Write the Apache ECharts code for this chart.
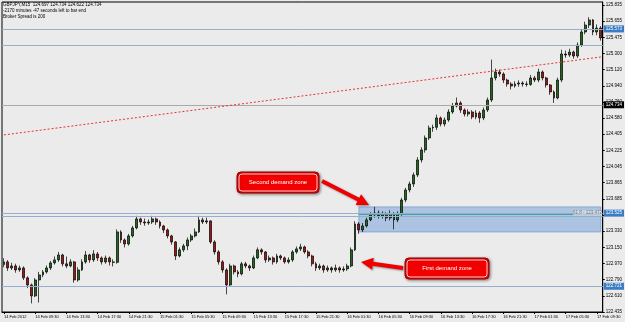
<!DOCTYPE html>
<html><head><meta charset="utf-8">
<script src="https://cdn.jsdelivr.net/npm/echarts/dist/echarts.min.js"></script>
<style>html,body{margin:0;padding:0;background:#ebebeb;}#c{width:625px;height:322px;}</style>
</head><body><div id="c"></div>
<script>
// ---- data (GBPJPY M15-style bars) ----
const startOpen = 122.960;
const closes = [
122.990,122.923,122.945,122.901,122.923,122.813,122.735,122.613,122.790,122.846,
122.879,122.923,122.979,123.012,123.067,122.968,122.945,122.990,122.790,122.901,
122.990,123.067,123.012,123.078,123.034,122.990,123.034,122.990,122.985,123.322,
123.233,123.189,123.278,123.366,123.466,123.432,123.421,123.432,123.466,123.432,
123.388,123.344,123.278,123.211,123.056,123.123,123.167,123.233,123.278,123.322,
123.455,123.432,123.444,123.211,123.100,122.990,122.901,122.735,122.945,122.879,
122.857,122.968,122.945,122.923,123.034,123.123,123.100,123.012,123.034,122.990,
123.056,123.034,122.990,123.012,123.100,123.134,123.156,123.100,123.056,122.968,
122.923,122.945,122.901,122.923,122.901,122.923,122.901,122.912,122.945,123.123,
123.410,123.344,123.388,123.455,123.510,123.532,123.499,123.521,123.477,123.521,
123.455,123.521,123.676,123.787,123.853,123.953,124.119,124.230,124.362,124.473,
124.480,124.584,124.517,124.562,124.650,124.716,124.750,124.672,124.628,124.650,
124.595,124.639,124.584,124.672,124.783,125.027,125.093,125.071,125.004,124.960,
124.938,124.960,124.971,124.960,124.955,125.027,125.004,125.093,125.027,124.949,
124.872,124.805,125.004,125.292,125.281,125.314,125.270,125.392,125.536,125.613,
125.669,125.536,125.580,125.469];
const highs = [
123.03,123.01,122.98,122.97,122.95,122.94,122.83,122.75,122.81,122.88,
122.90,122.95,123.00,123.05,123.10,123.08,123.05,123.02,123.00,122.93,
123.02,123.11,123.08,123.12,123.10,123.05,123.06,123.05,123.02,123.35,
123.34,123.25,123.30,123.39,123.50,123.48,123.47,123.46,123.50,123.48,
123.45,123.40,123.36,123.29,123.22,123.15,123.19,123.26,123.30,123.36,
123.50,123.48,123.48,123.45,123.23,123.12,123.01,122.92,122.97,122.96,
122.90,122.99,122.99,122.96,123.06,123.15,123.14,123.11,123.06,123.05,
123.08,123.07,123.05,123.04,123.12,123.16,123.19,123.17,123.12,123.07,
122.99,122.97,122.96,122.95,122.94,122.96,122.94,122.94,122.97,123.15,
123.44,123.43,123.42,123.48,123.54,123.60,123.56,123.55,123.54,123.56,
123.54,123.55,123.70,123.81,123.88,123.98,124.15,124.26,124.39,124.50,
124.51,124.62,124.60,124.59,124.68,124.75,124.81,124.77,124.69,124.68,
124.67,124.67,124.66,124.70,124.81,125.23,125.13,125.12,125.09,125.02,
124.98,124.99,125.00,124.99,124.99,125.06,125.05,125.13,125.11,125.04,
124.96,124.89,125.03,125.34,125.33,125.35,125.33,125.42,125.57,125.65,
125.70,125.68,125.62,125.60];
const lows = [
122.93,122.89,122.90,122.87,122.88,122.79,122.70,122.53,122.60,122.54,
122.82,122.86,122.90,122.96,122.99,122.94,122.92,122.93,122.76,122.77,
122.89,122.97,122.98,122.99,123.00,122.96,122.97,122.95,122.94,122.97,
123.20,123.15,123.17,123.26,123.35,123.40,123.39,123.40,123.41,123.40,
123.36,123.31,123.25,123.18,123.01,123.04,123.10,123.12,123.21,123.26,
123.31,123.41,123.41,123.19,123.07,122.96,122.87,122.63,122.72,122.85,
122.82,122.84,122.92,122.89,122.91,123.02,123.07,122.98,122.99,122.96,
122.97,123.01,122.97,122.97,122.99,123.08,123.11,123.08,123.03,122.94,
122.89,122.90,122.87,122.88,122.87,122.88,122.87,122.88,122.89,122.93,
123.11,123.30,123.32,123.37,123.44,123.48,123.47,123.47,123.44,123.45,
123.35,123.43,123.50,123.65,123.76,123.82,123.93,124.09,124.20,124.34,
124.43,124.45,124.49,124.49,124.54,124.63,124.70,124.64,124.60,124.60,
124.57,124.57,124.53,124.56,124.65,124.76,125.00,125.04,124.97,124.93,
124.90,124.92,124.93,124.93,124.93,124.94,124.98,124.98,125.00,124.92,
124.84,124.75,124.79,124.98,125.25,125.26,125.24,125.25,125.37,125.51,
125.58,125.50,125.50,125.44];
const yTickLabels = ['122.435','122.610','122.790','122.970','123.150','123.330','123.505','123.685',
  '123.865','124.045','124.225','124.405','124.580','124.760','124.940','125.120','125.300','125.475','125.655','125.835'];
const yMin = 122.435, yMax = 125.868;
// horizontal levels [price, label or null, kind]
const levels = [
  [125.573, '125.573', 'blue'],
  [125.392, null, 'blue'],
  [124.734, '124.734', 'bid'],
  [123.525, '123.525', 'blue'],
  [123.505, null, 'blue'],
  [122.721, '122.721', 'blue']
];
const trendLine = [[0, 124.396], [153, 125.259]];
const zoneBox = [[91, 123.598], [153, 123.322]];
const fiboLevel = [91, 153, 123.516];
const fiboText = '61.8 - 123.472';
const headerLines = ['GBPJPY,M15  124.697 124.734 124.622 124.734', '-2170 minutes -47 seconds left to bar end', 'Broker Spread is 200'];

// ---- build ----
const N = closes.length;
const pad = n => (n < 10 ? '0' : '') + n;
const t0 = Date.UTC(2012, 1, 14, 5, 30);
const cats = [];
for (let i = 0; i < N; i++) {
  const d = new Date(t0 + i * 1800000);
  cats.push(d.getUTCDate() + ' Feb ' + pad(d.getUTCHours()) + ':' + pad(d.getUTCMinutes()));
}
cats[0] = '14 Feb 2012';
const ohlc = closes.map((c, i) => [i === 0 ? startOpen : closes[i - 1], c, lows[i], highs[i]]);
const showIdx = i => i === 0 || (i >= 8 && (i - 8) % 8 === 0);

const mlData = levels.map(([v, lab, kind]) => ({
  yAxis: v,
  lineStyle: { color: kind === 'bid' ? '#a9a9a9' : '#97afcf', width: 1, type: 'solid' },
  label: lab ? { show: true, position: 'end', distance: 1, formatter: lab, color: '#fff', fontSize: 4.5,
    fontFamily: 'Liberation Sans', backgroundColor: kind === 'bid' ? '#000' : '#3b7dc4', padding: [1, 2, 1, 2] } : { show: false }
}));
mlData.push([{ coord: trendLine[0], lineStyle: { color: '#e8312f', width: 1, type: [2, 2] } }, { coord: trendLine[1] }]);
mlData.push([{ coord: [fiboLevel[0], fiboLevel[2]], lineStyle: { color: '#3fa3a0', width: 1, type: 'solid' } }, { coord: [fiboLevel[1], fiboLevel[2]] }]);

function arrow(x1, y1, x2, y2, w, hw, hl) {
  const L = Math.hypot(x2 - x1, y2 - y1), dx = (x2 - x1) / L, dy = (y2 - y1) / L, nx = -dy, ny = dx;
  const bx = x2 - dx * hl, by = y2 - dy * hl;
  return [[x1 + nx * w / 2, y1 + ny * w / 2], [bx + nx * w / 2, by + ny * w / 2], [bx + nx * hw / 2, by + ny * hw / 2], [x2, y2],
          [bx - nx * hw / 2, by - ny * hw / 2], [bx - nx * w / 2, by - ny * w / 2], [x1 - nx * w / 2, y1 - ny * w / 2]];
}
function note(x, y, w, h, text) {
  return [
    { type: 'rect', shape: { x: x, y: y, width: w, height: h, r: 4 }, style: { fill: '#f20000', stroke: '#9a0000', lineWidth: 1,
      shadowBlur: 3, shadowColor: 'rgba(0,0,0,0.45)', shadowOffsetX: 1, shadowOffsetY: 1 }, z: 100 },
    { type: 'rect', shape: { x: x + 2, y: y + 2, width: w - 4, height: h - 4, r: 3 }, style: { fill: 'none', stroke: '#ffffff', lineWidth: 0.8 }, z: 101 },
    { type: 'text', x: x + w / 2, y: y + h / 2, style: { text: text, fill: '#fff', fontSize: 6, fontFamily: 'Liberation Sans', align: 'center', verticalAlign: 'middle' }, z: 102 }
  ];
}
const graphics = [];
headerLines.forEach((t, i) => graphics.push({ type: 'text', x: 3, y: 2 + i * 6, style: { text: t, fill: '#000', fontSize: 4.5, fontFamily: 'Liberation Sans' }, z: 50 }));
graphics.push({ type: 'text', x: 602, y: 213, style: { text: fiboText, fill: '#7a7a7a', fontSize: 4.5, fontFamily: 'Liberation Sans', align: 'right', verticalAlign: 'middle',
  backgroundColor: 'rgba(235,235,235,0.6)' }, z: 50 });
graphics.push(...note(237, 172, 82, 21, 'Second demand zone'));
graphics.push(...note(405, 258, 84, 21, 'First demand zone'));
graphics.push({ type: 'polygon', shape: { points: arrow(322, 181, 369, 205, 4, 12, 12) }, style: { fill: '#f00000', shadowBlur: 2, shadowColor: 'rgba(0,0,0,0.4)', shadowOffsetX: 1, shadowOffsetY: 1 }, z: 100 });
graphics.push({ type: 'polygon', shape: { points: arrow(403, 268, 361, 262, 4, 12, 12) }, style: { fill: '#f00000', shadowBlur: 2, shadowColor: 'rgba(0,0,0,0.4)', shadowOffsetX: 1, shadowOffsetY: 1 }, z: 100 });

const chart = echarts.init(document.getElementById('c'));
chart.setOption({
  animation: false,
  backgroundColor: '#ebebeb',
  grid: { left: 2, right: 22, top: 2, bottom: 10, show: true, borderColor: '#000', borderWidth: 1, backgroundColor: '#ebebeb' },
  xAxis: {
    type: 'category', data: cats, boundaryGap: true,
    axisLine: { lineStyle: { color: '#000', width: 1 } },
    axisTick: { show: true, interval: showIdx, alignWithLabel: true, length: 2, lineStyle: { color: '#000' } },
    axisLabel: { interval: showIdx, fontSize: 4, color: '#000', align: 'left', margin: 3, fontFamily: 'Liberation Sans' },
    splitLine: { show: false }
  },
  yAxis: {
    type: 'value', position: 'right', min: yMin, max: yMax, interval: 3.4 / 19, scale: true,
    axisLine: { show: true, lineStyle: { color: '#000', width: 1 } },
    axisTick: { show: true, length: 2, lineStyle: { color: '#000' } },
    axisLabel: { showMaxLabel: false, fontSize: 4.5, color: '#000', margin: 3, fontFamily: 'Liberation Sans',
      formatter: (v, i) => yTickLabels[i] || '' },
    splitLine: { show: false }
  },
  series: [{
    type: 'candlestick', data: ohlc, barWidth: 2.4,
    itemStyle: { color: '#1f6a1f', color0: '#a31515', borderColor: '#000', borderColor0: '#000', borderWidth: 0.7 },
    markLine: { silent: true, symbol: ['none', 'none'], animation: false, data: mlData },
    markArea: { silent: true, data: [[{ coord: zoneBox[0], itemStyle: { color: 'rgba(110,155,215,0.5)', borderColor: '#86a8d4', borderWidth: 1 } }, { coord: zoneBox[1] }]] }
  }],
  graphic: graphics
});
</script></body></html>
